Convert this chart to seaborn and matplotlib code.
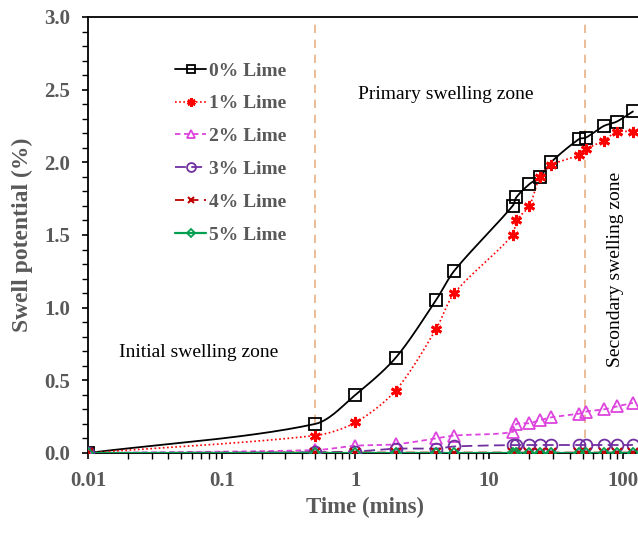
import numpy as np
import pandas as pd
import matplotlib
matplotlib.use("Agg")
import matplotlib.pyplot as plt
from matplotlib.lines import Line2D
from matplotlib.ticker import FuncFormatter, MultipleLocator, LogLocator
import seaborn as sns

# ---- data -------------------------------------------------------------
time_min = [0.01, 0.5, 1, 2, 4, 5.5, 15, 16, 20, 24, 29, 47, 53, 72, 90, 119]

lime_0 = [0, 0.20, 0.40, 0.655, 1.05, 1.255, 1.70, 1.76, 1.85, 1.90, 2.00,
          2.16, 2.17, 2.25, 2.28, 2.35]
lime_1 = [0, 0.12, 0.21, 0.43, 0.85, 1.10, 1.50, 1.60, 1.70, 1.90, 1.98,
          2.05, 2.09, 2.15, 2.21, 2.21]
lime_2 = [0, 0.02, 0.05, 0.06, 0.10, 0.12, 0.145, 0.20, 0.205, 0.225, 0.245,
          0.27, 0.285, 0.30, 0.32, 0.345]
lime_3 = [0, 0.005, 0.01, 0.03, 0.03, 0.045, 0.055, 0.055, 0.055, 0.055, 0.055,
          0.055, 0.055, 0.055, 0.055, 0.055]
lime_4 = [0, 0.003, 0.003, 0.003, 0.003, 0.003, 0.003, 0.003, 0.003, 0.003,
          0.003, 0.003, 0.003, 0.003, 0.003, 0.003]
lime_5 = [0, 0, 0, 0, 0, 0, 0, 0, 0, 0, 0, 0, 0, 0, 0, 0]

series_labels = ["0% Lime", "1% Lime", "2% Lime", "3% Lime", "4% Lime", "5% Lime"]
zone_bounds = [0.5, 52]

# ---- styling ----------------------------------------------------------
styles = [
    dict(color="#000000", ls="-", marker="s", ms=8.5, mew=1.3, lw=1.3, fill=False),
    dict(color="#FF0000", ls=(0, (1, 1.5)), marker=(6, 2, 0), ms=8, mew=2.0, lw=1.2, fill=True),
    dict(color="#DD44DD", ls=(0, (3, 2)), marker="^", ms=8.5, mew=1.3, lw=1.3, fill=False),
    dict(color="#7030A0", ls=(0, (6, 3)), marker="o", ms=8.5, mew=1.3, lw=1.3, fill=False),
    dict(color="#C00000", ls=(0, (5, 3)), marker="x", ms=6.5, mew=1.5, lw=1.3, fill=True),
    dict(color="#00A050", ls="-", marker="D", ms=5.5, mew=1.3, lw=1.6, fill=False),
]

sns.set_style("ticks")
plt.rcParams["font.family"] = ["Liberation Serif", "DejaVu Serif"]
grey = "#595959"

# screen scale of the axes (pixels per decade, pixels per unit of swell)
PX_DECADE, PX_UNIT = 133.7, 145.3


def smooth(t, v, n=30, k=0.3):
    """Smoothed Bezier path through the points, built in screen space."""
    P = np.column_stack([np.log10(np.asarray(t, float)) * PX_DECADE,
                         np.asarray(v, float) * PX_UNIT])
    m = len(P)
    T = np.zeros_like(P)
    for i in range(m):
        d = P[min(i + 1, m - 1)] - P[max(i - 1, 0)]
        nrm = np.hypot(*d)
        T[i] = d / nrm if nrm > 0 else 0
    s = np.linspace(0, 1, n, endpoint=False)[:, None]
    pts = []
    for i in range(m - 1):
        p1, p2 = P[i], P[i + 1]
        L = np.hypot(*(p2 - p1))
        c1 = p1 + T[i] * L * k
        c2 = p2 - T[i + 1] * L * k
        pts.append((1 - s) ** 3 * p1 + 3 * (1 - s) ** 2 * s * c1
                   + 3 * (1 - s) * s ** 2 * c2 + s ** 3 * p2)
    pts.append(P[-1:])
    pts = np.vstack(pts)
    return 10 ** (pts[:, 0] / PX_DECADE), pts[:, 1] / PX_UNIT


fig = plt.figure(figsize=(6.38, 5.35), dpi=100)
ax = fig.add_axes([88 / 638, 82 / 535, 668.5 / 638, 436 / 535])
ax.set_xscale("log")

all_series = [lime_0, lime_1, lime_2, lime_3, lime_4, lime_5]
for lab, vals, st in zip(series_labels, all_series, styles):
    xs, ys = smooth(time_min, vals)
    curve = pd.DataFrame({"t": xs, "v": ys})
    sns.lineplot(data=curve, x="t", y="v", ax=ax, color=st["color"], lw=st["lw"],
                 linestyle=st["ls"], sort=False, estimator=None, zorder=3)
    pts = pd.DataFrame({"t": time_min, "v": vals})
    sns.lineplot(data=pts, x="t", y="v", ax=ax, linestyle="none", marker=st["marker"],
                 ms=st["ms"], mew=st["mew"], color=st["color"], markeredgecolor=st["color"],
                 markerfacecolor=(st["color"] if st["fill"] else "none"),
                 sort=False, estimator=None, zorder=4)

for b in zone_bounds:
    ax.axvline(b, color="#E9B085", ls=(0, (5, 4)), lw=1.2, zorder=1)

ax.set_xlim(0.01, 1000)
ax.set_ylim(0, 3.0)

ax.xaxis.set_major_locator(LogLocator(base=10))
ax.xaxis.set_minor_locator(LogLocator(base=10, subs=np.arange(2, 10)))
ax.xaxis.set_major_formatter(FuncFormatter(lambda v, p: f"{v:g}"))
ax.yaxis.set_major_locator(MultipleLocator(0.5))
ax.yaxis.set_minor_locator(MultipleLocator(0.1))
ax.yaxis.set_major_formatter(FuncFormatter(lambda v, p: f"{v:.1f}"))

ax.tick_params(axis="both", which="major", length=4, width=1.2, color="black",
               labelsize=15, labelcolor=grey, pad=9)
ax.tick_params(axis="both", which="minor", length=4, width=1.0, color="black")
for lbl in ax.get_xticklabels() + ax.get_yticklabels():
    lbl.set_fontweight("bold")

for sp in ax.spines.values():
    sp.set_linewidth(1.3)
    sp.set_color("black")

ax.set_xlabel("Time (mins)", fontsize=16.5, fontweight="bold", color=grey)
ax.set_ylabel("Swell potential (%)", fontsize=17, fontweight="bold", color=grey)
ax.xaxis.set_label_coords(0.415, -0.1)
ax.yaxis.set_label_coords(-0.083, 0.5)

ax.text(1.05, 2.465, "Primary swelling zone", fontsize=14, color="black", va="center")
ax.text(0.017, 0.69, "Initial swelling zone", fontsize=14, color="black", va="center")
ax.text(88, 1.26, "Secondary swelling zone", fontsize=14, color="black",
        rotation=90, ha="center", va="center")

handles = []
for st in styles:
    handles.append(Line2D([], [], color=st["color"], lw=st["lw"], ls=st["ls"],
                          marker=st["marker"], ms=st["ms"] * 0.75, mew=st["mew"],
                          markeredgecolor=st["color"],
                          markerfacecolor=(st["color"] if st["fill"] else "none")))
leg = ax.legend(handles, series_labels, loc="upper left", frameon=False,
                bbox_to_anchor=(175 / 638, 1 - 62 / 535), bbox_transform=fig.transFigure,
                borderpad=0, borderaxespad=0, handlelength=1.6, handletextpad=0.15,
                labelspacing=0.78, prop={"size": 14, "weight": "bold"})
for txt in leg.get_texts():
    txt.set_color(grey)

fig.savefig("out.png", dpi=100)
